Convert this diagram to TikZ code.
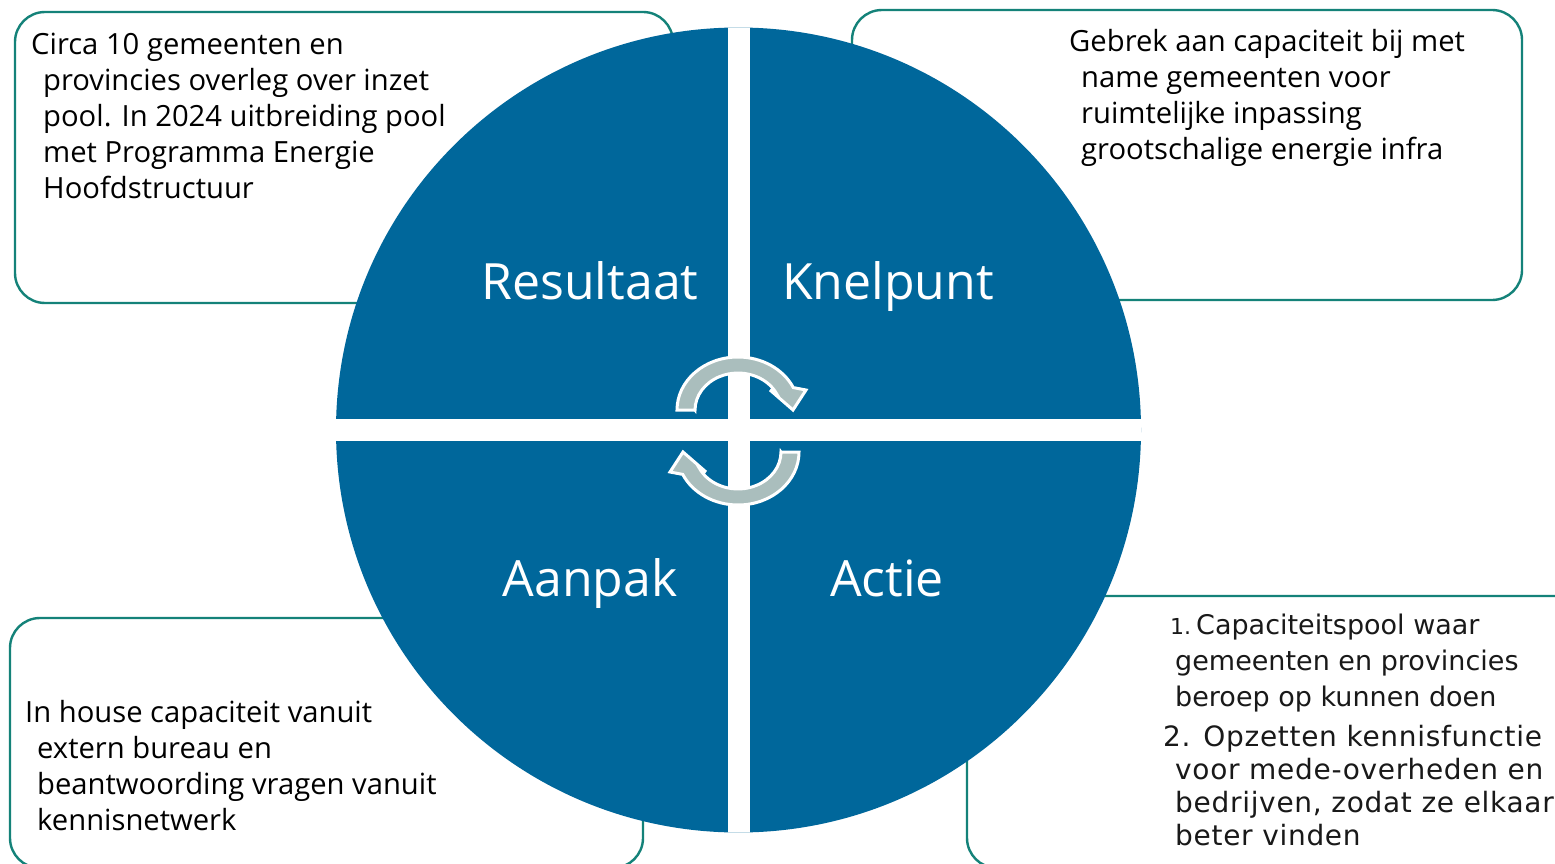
\documentclass[tikz,border=0pt]{standalone}
\usepackage{fontspec}
\setmainfont{Open Sans}
\newfontfamily\dvs{DejaVu Sans}
\newfontfamily\dvswide[LetterSpace=2.5]{DejaVu Sans}
\definecolor{quadblue}{RGB}{0,103,155}
\definecolor{boxteal}{RGB}{20,130,121}
\definecolor{arrowgrey}{RGB}{170,190,189}
\definecolor{acttextc}{RGB}{25,25,25}
\begin{document}
\begin{tikzpicture}[x=1pt,y=-1pt,
  infobox/.style={draw=boxteal, line width=2.4pt, fill=white, rounded corners=30pt, inner sep=0pt},
  bodytext/.style={font=\fontsize{29.2}{36}\selectfont, align=left, inner sep=0pt, anchor=north west, text=black},
  acttext/.style={font=\dvs\fontsize{27}{36}\selectfont, align=left, inner sep=0pt, anchor=north west, text=acttextc},
  acttextb/.style={font=\dvswide\fontsize{28}{33}\selectfont, align=left, inner sep=0pt, anchor=north west, text=acttextc},
  quadlabel/.style={font=\fontsize{50}{60}\selectfont, text=white, inner sep=0pt, anchor=base},
  cyclearrow/.pic={
    \path[fill=arrowgrey, draw=white, line width=3pt, line join=miter]
      (-43,0) -- (-61,0) arc[start angle=180, end angle=335, x radius=61, y radius=53]
      -- (68,-20) -- (55,0) -- (32,-20) -- (39.0,-15.6)
      arc[start angle=335, end angle=180, x radius=43, y radius=37] -- cycle;
  }]
\useasboundingbox (0,0) rectangle (1555,864);
\fill[white] (0,0) rectangle (1555,864);

% boxes
\node[infobox, minimum width=658pt, minimum height=291pt] (boxTL) at (344,157.5) {};
\node[infobox, minimum width=670pt, minimum height=290pt] (boxTR) at (1187,155) {};
\node[infobox, minimum width=633pt, minimum height=250pt] (boxBL) at (326.5,743) {};
\node[infobox, minimum width=640pt, minimum height=272pt] (boxBR) at (1287,732) {};

% circle
\fill[quadblue] (738.5,430) circle[radius=402.5];
\begin{scope}
  \clip (738.5,430) circle[radius=402.5];
  \fill[white] (728,0) rectangle (750,864);
  \fill[white] (300,419) rectangle (1200,441);
\end{scope}

% quadrant labels
\node[quadlabel] (lblRes) at (590,299) {Resultaat};
\node[quadlabel] (lblKne) at (888,299) {Knelpunt};
\node[quadlabel] (lblAan) at (590,596) {Aanpak};
\node[quadlabel] (lblAct) at (887,596) {Actie};

% cycle arrows
\pic (arrowTop) at (738,410) {cyclearrow};
\pic[rotate=180] (arrowBot) at (738,452) {cyclearrow};

% texts
\node[bodytext] (txtTL) at (43,33) {\hspace*{-12pt}Circa 10 gemeenten en\\provincies overleg over inzet\\pool. In 2024 uitbreiding pool\\met Programma Energie\\Hoofdstructuur};
\node[bodytext] (txtTR) at (1081,29) {\hspace*{-12pt}Gebrek aan capaciteit bij met\\name gemeenten voor\\ruimtelijke inpassing\\grootschalige energie infra};
\node[bodytext] (txtBL) at (37,700) {\hspace*{-12pt}In house capaciteit vanuit\\extern bureau en\\beantwoording vragen vanuit\\kennisnetwerk};
\node[acttext] (txtBR1) at (1175,614) {\hspace*{-5pt}{\fontsize{22}{22}\selectfont 1.}\hspace{5pt}Capaciteitspool waar\\gemeenten en provincies\\beroep op kunnen doen};
\node[acttextb] (txtBR2) at (1175,725) {\hspace*{-12pt}2. Opzetten kennisfunctie\\voor mede-overheden en\\bedrijven, zodat ze elkaar\\beter vinden};
\end{tikzpicture}
\end{document}
